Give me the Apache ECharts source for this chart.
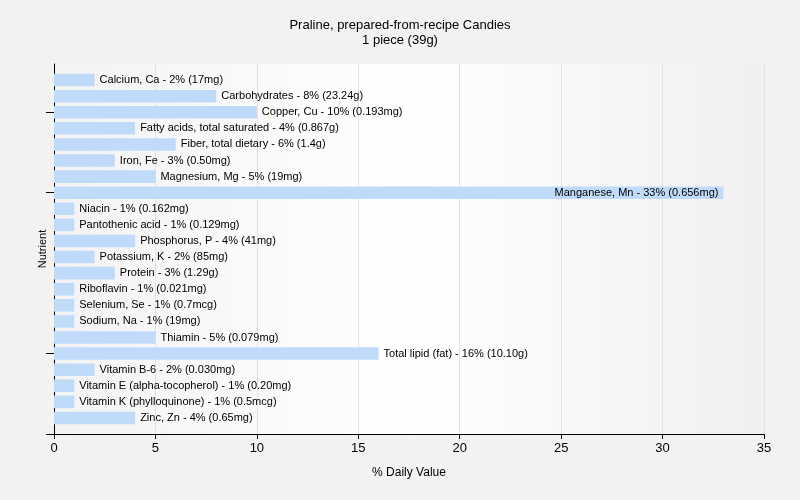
<!DOCTYPE html>
<html>
<head>
<meta charset="utf-8">
<script src="https://cdn.jsdelivr.net/npm/echarts@6/dist/echarts.min.js"></script>
<style>html,body{margin:0;padding:0;background:#f2f2f1;}#chart{width:800px;height:500px;}</style>
</head>
<body>
<div id="chart"></div>
<script>
const nutrients = ['Calcium, Ca','Carbohydrates','Copper, Cu','Fatty acids, total saturated','Fiber, total dietary','Iron, Fe','Magnesium, Mg','Manganese, Mn','Niacin','Pantothenic acid','Phosphorus, P','Potassium, K','Protein','Riboflavin','Selenium, Se','Sodium, Na','Thiamin','Total lipid (fat)','Vitamin B-6','Vitamin E (alpha-tocopherol)','Vitamin K (phylloquinone)','Zinc, Zn'];
const dailyValues = [2,8,10,4,6,3,5,33,1,1,4,2,3,1,1,1,5,16,2,1,1,4];
const amounts = ['17mg','23.24g','0.193mg','0.867g','1.4g','0.50mg','19mg','0.656mg','0.162mg','0.129mg','41mg','85mg','1.29g','0.021mg','0.7mcg','19mg','0.079mg','10.10g','0.030mg','0.20mg','0.5mcg','0.65mg'];
const xTicks = {min: 0, max: 35, interval: 5};
const yTickIndices = [3, 8, 18, 23];

const cats = [''].concat(nutrients).concat(['']);
const seriesData = [null].concat(dailyValues.map((v, i) => {
  const item = {value: v, name: nutrients[i]};
  if (v >= 30) item.label = {position: 'insideRight'};
  return item;
})).concat([null]);

const chart = echarts.init(document.getElementById('chart'));
const font = '"Liberation Sans", Arial, sans-serif';
chart.setOption({
  backgroundColor: '#f2f2f1',
  animation: false,
  title: {
    text: 'Praline, prepared-from-recipe Candies',
    subtext: '1 piece (39g)',
    left: 'center', top: 14, itemGap: 2,
    textStyle: {fontSize: 13, fontWeight: 'normal', color: '#000', fontFamily: font},
    subtextStyle: {fontSize: 13, color: '#000', fontFamily: font}
  },
  grid: {
    left: 54, right: 36, top: 64, bottom: 66,
    show: true, borderWidth: 0,
    backgroundColor: {type: 'linear', x: 0, y: 0, x2: 1, y2: 0, colorStops: [
      {offset: 0, color: '#f3f3f3'}, {offset: 0.5, color: '#ffffff'}, {offset: 1, color: '#f0f0f0'}
    ]}
  },
  xAxis: {
    type: 'value', min: xTicks.min, max: xTicks.max, interval: xTicks.interval,
    name: '% Daily Value', nameLocation: 'middle', nameGap: 33,
    nameTextStyle: {fontSize: 12, color: '#000', fontFamily: font},
    axisLine: {show: true, lineStyle: {color: '#000', width: 1}},
    axisTick: {show: true, length: 5, lineStyle: {color: '#000'}},
    axisLabel: {fontSize: 13, color: '#000', margin: 8, fontFamily: font},
    splitLine: {show: true, lineStyle: {color: '#e2e2e2'}}
  },
  yAxis: {
    type: 'category', data: cats, inverse: true, boundaryGap: false,
    name: 'Nutrient', nameLocation: 'middle', nameGap: 6, nameRotate: 90,
    nameTextStyle: {fontSize: 11, color: '#000', fontFamily: font},
    axisLine: {show: true, lineStyle: {color: '#000', width: 1}},
    axisTick: {show: true, length: 8, lineStyle: {color: '#000'},
      interval: function (index) { return yTickIndices.indexOf(index) >= 0; }},
    axisLabel: {show: false},
    splitLine: {show: false}
  },
  series: [{
    type: 'bar', data: seriesData, barCategoryGap: '22%',
    itemStyle: {color: '#c0dbfa'},
    label: {
      show: true, position: 'right', distance: 5,
      fontSize: 11, color: '#000', fontFamily: font,
      formatter: function (p) {
        const i = p.dataIndex - 1;
        return nutrients[i] + ' - ' + dailyValues[i] + '% (' + amounts[i] + ')';
      }
    }
  }]
});
</script>
</body>
</html>
